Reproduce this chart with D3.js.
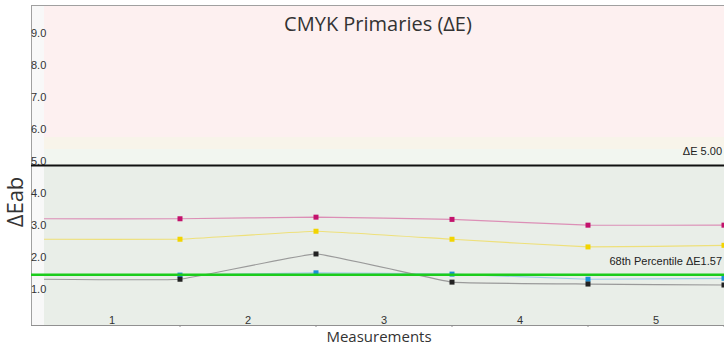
<!DOCTYPE html>
<html><head><meta charset="utf-8">
<script src="https://cdn.jsdelivr.net/npm/d3@7"></script>
<style>body{margin:0;background:#fff}svg{display:block}</style>
</head><body>
<script>
const categories = ["1","2","3","4","5"];
const cyanValues    = [1.56, 1.63, 1.59, 1.43, 1.46];
const magentaValues = [3.32, 3.37, 3.30, 3.12, 3.12];
const yellowValues  = [2.68, 2.93, 2.68, 2.44, 2.49];
const blackValues   = [1.43, 2.22, 1.34, 1.28, 1.25];
const yTicks = [1,2,3,4,5,6,7,8,9];
const limitValue = 5.00;
const percentileValue = 1.57;
const bandEdges = [0, 5.0, 5.5, 5.875, 10];

const series = [
  {name:"Cyan", values:cyanValues, line:"#9fcbe6", mark:"#1d8fd6"},
  {name:"Magenta", values:magentaValues, line:"#dc8fb6", mark:"#c3126c"},
  {name:"Yellow", values:yellowValues, line:"#eee07a", mark:"#f2d400"},
  {name:"Black", values:blackValues, line:"#9a9a9a", mark:"#222222"}
];

(function(){
const W=724,H=347;
const mLeft=31, mTop=5, mBottom=325, plotLeft=44, plotRight=724;
const svg=d3.select("body").append("svg").attr("width",W).attr("height",H);

const y=d3.scaleLinear().domain([0,10]).range([mBottom,mTop]);
const xb=d3.scaleBand().domain(categories).range([plotLeft,plotRight]).padding(0);
const xl=d3.scaleLinear().domain([0,categories.length]).range([plotLeft,plotRight]);

// left strip
svg.append("rect").attr("x",mLeft).attr("y",mTop).attr("width",plotLeft-mLeft).attr("height",mBottom-mTop).attr("fill","#f8f8f8");
// bands
const bandColors=["#e9eee8","#f2f6f0","#f8f4ea","#fdf0f0"];
for(let i=0;i<bandEdges.length-1;i++){
  svg.append("rect").attr("x",plotLeft).attr("width",plotRight-plotLeft)
    .attr("y",y(bandEdges[i+1])).attr("height",y(bandEdges[i])-y(bandEdges[i+1]))
    .attr("fill",bandColors[i]);
}

// frame
svg.append("line").attr("x1",mLeft).attr("x2",W).attr("y1",mTop+0.5).attr("y2",mTop+0.5).attr("stroke","#a0a0a0");
svg.append("line").attr("x1",mLeft+0.5).attr("x2",mLeft+0.5).attr("y1",mTop).attr("y2",mBottom).attr("stroke","#a0a0a0");

// x axis
const xAxis=svg.append("g").attr("transform",`translate(0,${mBottom})`);
xAxis.append("line").attr("x1",mLeft).attr("x2",W).attr("y1",0.5).attr("y2",0.5).attr("stroke","#909090");
categories.forEach((c,i)=>{
  xAxis.append("line").attr("x1",xl(i+1)).attr("x2",xl(i+1)).attr("y1",0).attr("y2",2).attr("stroke","#909090");
  xAxis.append("text").attr("x",xb(c)+xb.bandwidth()/2).attr("y",-1).attr("text-anchor","middle")
    .attr("font-family","Liberation Sans, Arial, sans-serif").attr("font-size",11).attr("fill","#333").text(c);
});

// y tick labels
yTicks.forEach(t=>{
  svg.append("text").attr("x",mLeft).attr("y",y(t)).attr("font-family","Liberation Sans, Arial, sans-serif")
    .attr("font-size",11).attr("fill","#333").text(t.toFixed(1));
});

// series
const line=d3.line().x(d=>xl(d[0])).y(d=>y(d[1])).curve(d3.curveCardinal.tension(0.75));
series.forEach(s=>{
  const pts=[[0,s.values[0]]].concat(s.values.map((v,i)=>[i+1,v]));
  svg.append("path").attr("d",line(pts)).attr("fill","none").attr("stroke",s.line).attr("stroke-width",1.2);
});
series.forEach(s=>{
  svg.selectAll(null).data(s.values).enter().append("rect")
    .attr("x",(d,i)=>xl(i+1)-2.5).attr("y",d=>y(d)-2.5).attr("width",5).attr("height",5).attr("fill",s.mark);
});

// threshold lines
svg.append("line").attr("x1",mLeft).attr("x2",W).attr("y1",y(limitValue)+0.5).attr("y2",y(limitValue)+0.5).attr("stroke","#111").attr("stroke-width",2);
svg.append("line").attr("x1",mLeft).attr("x2",W).attr("y1",y(percentileValue)).attr("y2",y(percentileValue)).attr("stroke","#1ccc1c").attr("stroke-width",2.5);

svg.append("text").attr("x",722).attr("y",y(limitValue)-10).attr("text-anchor","end")
  .attr("font-family","Liberation Sans, Arial, sans-serif").attr("font-size",11).attr("fill","#222").text("ΔE "+limitValue.toFixed(2));
svg.append("text").attr("x",722).attr("y",y(percentileValue)-10).attr("text-anchor","end")
  .attr("font-family","Liberation Sans, Arial, sans-serif").attr("font-size",11).attr("fill","#222").text("68th Percentile ΔE"+percentileValue.toFixed(2));

// title and axis titles
svg.append("text").attr("x",378).attr("y",31).attr("text-anchor","middle")
  .attr("font-family","Open Sans, sans-serif").attr("font-size",20).attr("fill","#333").text("CMYK Primaries (ΔE)");
svg.append("text").attr("x",379).attr("y",342).attr("text-anchor","middle")
  .attr("font-family","Open Sans, sans-serif").attr("font-size",15).attr("fill","#333").text("Measurements");
svg.append("text").attr("transform",`translate(23,202) rotate(-90)`).attr("text-anchor","middle")
  .attr("font-family","Open Sans, sans-serif").attr("font-size",22).attr("fill","#333").text("ΔEab");
})();
</script>
</body></html>
